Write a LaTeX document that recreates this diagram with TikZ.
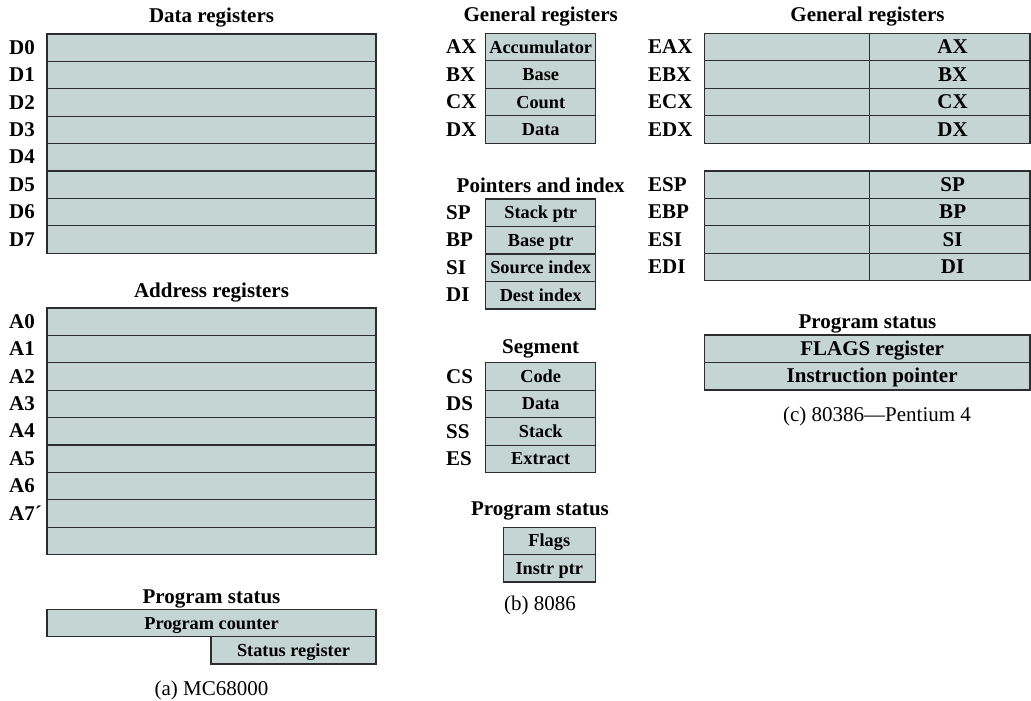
\documentclass[tikz,border=0pt]{standalone}
\usepackage{fontspec}
\setmainfont{Liberation Serif}
\definecolor{regfill}{RGB}{197,213,211}
\definecolor{regline}{RGB}{45,45,45}
\newcommand\ttlfont{\fontsize{21}{24}\selectfont\bfseries}
\newcommand\boxfont{\fontsize{18.3}{21}\selectfont\bfseries}
\newcommand\bigboxfont{\fontsize{21}{24}\selectfont\bfseries}
\newcommand\capfont{\fontsize{21}{24}\selectfont}
\begin{document}
\begin{tikzpicture}[x=1pt,y=-1pt,
  reg/.style={draw=regline, fill=regfill, line width=1.3pt, rectangle, inner sep=0pt, outer sep=0pt,
    anchor=north west, font=\boxfont, text height=14pt, text depth=2pt},
  regbig/.style={reg, font=\bigboxfont, text height=15pt, text depth=2pt},
  lbl/.style={anchor=base west, inner sep=0pt, font=\ttlfont},
  ttl/.style={anchor=base, inner sep=0pt, font=\ttlfont},
  captxt/.style={anchor=base, inner sep=0pt, font=\capfont}]
\useasboundingbox (0,0) rectangle (1031,701);

% ---------------- (a) MC68000 ----------------
\node[ttl] (tdata) at (211.5,22.5) {Data registers};
\foreach \i in {0,...,7}{
  \node[reg, minimum width=329pt, minimum height=27.4pt] (d\i) at (47,{34+27.4*\i}) {};
  \node[lbl] (ld\i) at (9,{34+27.4*\i+20.3}) {D\i};
}
\node[ttl] (taddr) at (211.5,297) {Address registers};
\foreach \i/\t in {0/A0,1/A1,2/A2,3/A3,4/A4,5/A5,6/A6,7/A7´}{
  \node[reg, minimum width=329pt, minimum height=27.4pt] (a\i) at (47,{308+27.4*\i}) {};
  \node[lbl] (la\i) at (9,{308+27.4*\i+20.3}) {\t};
}
\node[reg, minimum width=329pt, minimum height=27.4pt] (a8) at (47,{308+27.4*8}) {};
\node[ttl] (tpsa) at (211.5,603.3) {Program status};
\node[reg, minimum width=329pt, minimum height=27.4pt] (pc) at (47,609.3) {Program counter};
\node[reg, minimum width=165pt, minimum height=27.4pt] (sr) at (211,636.7) {Status register};
\node[captxt] (capa) at (211.5,695.5) {(a) MC68000};

% ---------------- (b) 8086 ----------------
\node[ttl] (tgenb) at (540.7,21.5) {General registers};
\foreach \i/\r/\t in {0/AX/Accumulator,1/BX/Base,2/CX/Count,3/DX/Data}{
  \node[reg, minimum width=110pt, minimum height=27.5pt] (g\r) at (485.7,{33.3+27.5*\i}) {\t};
  \node[lbl] (bl\r) at (446,{33.3+27.5*\i+20.3}) {\r};
}
\node[ttl] (tptr) at (540.7,192) {Pointers and index};
\foreach \i/\r/\t in {0/SP/Stack ptr,1/BP/Base ptr,2/SI/Source index,3/DI/Dest index}{
  \node[reg, minimum width=110pt, minimum height=27.5pt] (p\r) at (485.7,{199+27.5*\i}) {\t};
  \node[lbl] (bl\r) at (446,{199+27.5*\i+20.3}) {\r};
}
\node[ttl] (tseg) at (540.7,353.5) {Segment};
\foreach \i/\r/\t in {0/CS/Code,1/DS/Data,2/SS/Stack,3/ES/Extract}{
  \node[reg, minimum width=110pt, minimum height=27.5pt] (s\r) at (485.7,{362.7+27.5*\i}) {\t};
  \node[lbl] (bl\r) at (446,{362.7+27.5*\i+20.3}) {\r};
}
\node[ttl] (tpsb) at (540,515) {Program status};
\node[reg, minimum width=92pt, minimum height=27.3pt] (flags) at (503.3,527.3) {Flags};
\node[reg, minimum width=92pt, minimum height=27.3pt] (iptr) at (503.3,554.6) {Instr ptr};
\node[captxt] (capb) at (540,610) {(b) 8086};

% ---------------- (c) 80386 - Pentium 4 ----------------
\node[ttl] (tgenc) at (867.5,21.5) {General registers};
\foreach \i/\r/\s in {0/EAX/AX,1/EBX/BX,2/ECX/CX,3/EDX/DX}{
  \node[reg, minimum width=165pt, minimum height=27.5pt] (h\r) at (704.3,{33.3+27.5*\i}) {};
  \node[regbig, minimum width=160.7pt, minimum height=27.5pt] (x\r) at (869.3,{33.3+27.5*\i}) {\hspace*{6pt}\s};
  \node[lbl] (cl\r) at (648,{33.3+27.5*\i+20.3}) {\r};
}
\foreach \i/\r/\s in {0/ESP/SP,1/EBP/BP,2/ESI/SI,3/EDI/DI}{
  \node[reg, minimum width=165pt, minimum height=27.4pt] (h\r) at (704.3,{171+27.4*\i}) {};
  \node[regbig, minimum width=160.7pt, minimum height=27.4pt] (x\r) at (869.3,{171+27.4*\i}) {\hspace*{6pt}\s};
  \node[lbl] (cl\r) at (648,{171+27.4*\i+20.3}) {\r};
}
\node[ttl] (tpsc) at (867.5,328.5) {Program status};
\node[regbig, minimum width=325.7pt, minimum height=27.5pt] (flagsc) at (704.3,335) {\hspace*{10pt}FLAGS register};
\node[regbig, minimum width=325.7pt, minimum height=27.5pt] (iptrc) at (704.3,362.5) {\hspace*{10pt}Instruction pointer};
\node[captxt] (capc) at (877,421.5) {(c) 80386---Pentium 4};
\end{tikzpicture}
\end{document}
